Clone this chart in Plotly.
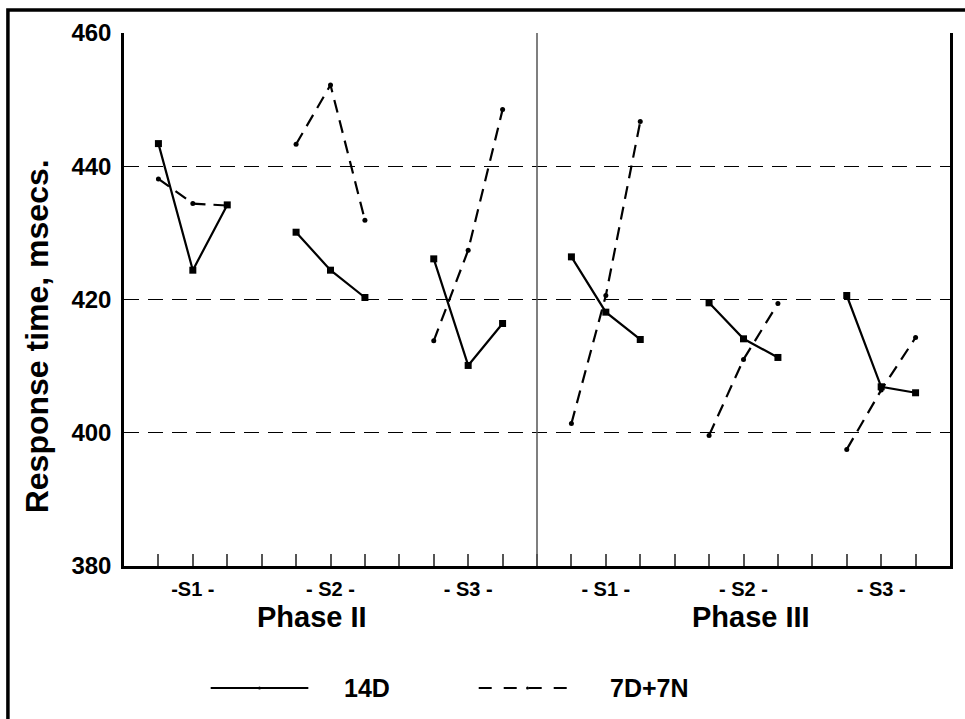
import plotly.graph_objects as go

# Mean response time (msecs) per trial block, three blocks per session
phases = ["Phase II", "Phase III"]
sessions = ["S1", "S2", "S3"]
session_labels = ["-S1 -", "- S2 -", "- S3 -", "- S1 -", "- S2 -", "- S3 -"]
blocks_per_session = 3

rt_14d = [443.4, 424.4, 434.2, 430.1, 424.4, 420.3, 426.1, 410.1, 416.4,
          426.4, 418.1, 414.0, 419.5, 414.1, 411.3, 420.6, 406.9, 406.0]
rt_7d7n = [438.1, 434.4, 434.1, 443.3, 452.2, 431.9, 413.8, 427.4, 448.5,
           401.4, 420.6, 446.7, 399.6, 411.0, 419.4, 397.5, 406.4, 414.3]

y_ticks = [380, 400, 420, 440, 460]

FONT = "Liberation Sans"
W, H = 965, 719
L, R, T, B = 124, 12, 33, 153
PW, PH = W - L - R, H - T - B


def px(x):
    return (x - L) / PW


def py(y):
    return (H - B - y) / PH


def font(size, bold=True):
    return dict(family=FONT, size=size, color="black",
                weight="bold" if bold else "normal")


n_groups = len(phases) * len(sessions)
gap = blocks_per_session + 1


def segmented(values):
    xs, ys = [], []
    for g in range(n_groups):
        for b in range(blocks_per_session):
            xs.append(1 + gap * g + b)
            ys.append(values[g * blocks_per_session + b])
        xs.append(None)
        ys.append(None)
    return xs, ys


fig = go.Figure()

x1, y1 = segmented(rt_7d7n)
fig.add_trace(go.Scatter(
    x=x1, y=y1, mode="lines+markers", name="7D+7N",
    line=dict(color="black", width=2.2, dash="13px,8px"),
    marker=dict(symbol="circle", size=5, color="black"),
    connectgaps=False, showlegend=False,
))

x2, y2 = segmented(rt_14d)
fig.add_trace(go.Scatter(
    x=x2, y=y2, mode="lines+markers", name="14D",
    line=dict(color="black", width=2.2),
    marker=dict(symbol="square", size=7, color="black"),
    connectgaps=False, showlegend=False,
))

x_max = n_groups * gap
tick_pos = list(range(1, x_max))
label_pos = {1 + gap * g + 1: session_labels[g] for g in range(n_groups)}
tick_text = [label_pos.get(t, "") for t in tick_pos]

fig.update_xaxes(
    range=[0, x_max], tickvals=tick_pos, ticktext=tick_text,
    ticks="inside", ticklen=12, tickwidth=1.5, tickcolor="#555",
    showline=True, linecolor="black", linewidth=2.5,
    showgrid=False, zeroline=False, ticklabelstandoff=3,
    tickfont=font(20),
)
fig.update_yaxes(
    range=[y_ticks[0], y_ticks[-1]], tickvals=y_ticks,
    ticks="", showline=True, mirror=True, linecolor="black", linewidth=2.5,
    showgrid=True, gridcolor="black", gridwidth=1, griddash="15px,9px",
    zeroline=False, ticklabelstandoff=5,
    tickfont=font(24),
)

# divider between the two phases
mid = n_groups // 2 * gap
shapes = [dict(type="line", xref="x", yref="y", x0=mid, x1=mid,
               y0=y_ticks[0], y1=y_ticks[-1],
               line=dict(color="#555", width=1.5))]

# outer frame
shapes.append(dict(type="rect", xref="paper", yref="paper",
                   x0=px(7.5), x1=px(990), y0=py(740), y1=py(10),
                   line=dict(color="black", width=3.5)))

# legend keys
ly = py(688)
shapes.append(dict(type="line", xref="paper", yref="paper",
                   x0=px(211), x1=px(309), y0=ly, y1=ly,
                   line=dict(color="black", width=2)))
shapes.append(dict(type="line", xref="paper", yref="paper",
                   x0=px(480), x1=px(574), y0=ly, y1=ly,
                   line=dict(color="black", width=2, dash="13px,12px")))
for cx in (260, 529):
    shapes.append(dict(type="circle", xref="paper", yref="paper",
                       x0=px(cx - 1.5), x1=px(cx + 1.5),
                       y0=py(689.5), y1=py(686.5),
                       fillcolor="black", line=dict(width=0)))

annotations = [
    dict(text="Response time, msecs.", xref="paper", yref="paper",
         x=px(37), y=py(336), xanchor="center", yanchor="middle",
         textangle=-90, showarrow=False, font=font(32)),
    dict(text=phases[0], xref="paper", yref="paper", x=px(313), y=py(617),
         xanchor="center", yanchor="middle", showarrow=False, font=font(29)),
    dict(text=phases[1], xref="paper", yref="paper", x=px(753), y=py(617),
         xanchor="center", yanchor="middle", showarrow=False, font=font(29)),
    dict(text="14D", xref="paper", yref="paper", x=px(343), y=ly,
         xanchor="left", yanchor="middle", showarrow=False, font=font(25)),
    dict(text="7D+7N", xref="paper", yref="paper", x=px(610), y=ly,
         xanchor="left", yanchor="middle", showarrow=False, font=font(25)),
]

fig.update_layout(
    width=W, height=H,
    margin=dict(l=L, r=R, t=T, b=B),
    paper_bgcolor="white", plot_bgcolor="white",
    shapes=shapes, annotations=annotations, showlegend=False,
)

fig.write_html("out.html")
